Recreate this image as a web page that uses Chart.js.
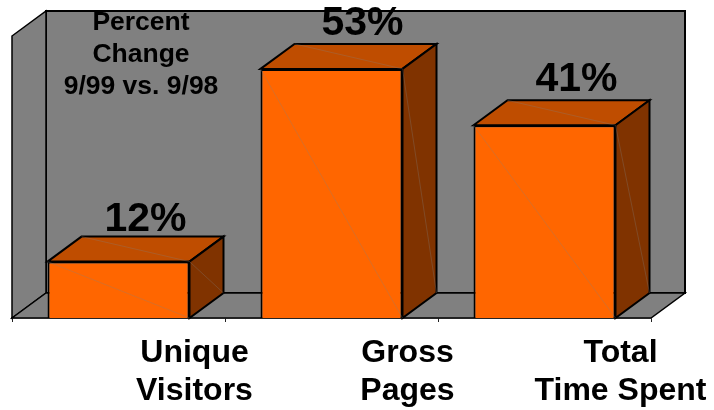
<!DOCTYPE html>
<html>
<head>
<meta charset="utf-8">
<style>
    html, body { margin: 0; padding: 0; background: #fff; }
    canvas { display: block; }
</style>
<script src="https://cdn.jsdelivr.net/npm/chart.js@4/dist/chart.umd.js"></script>
</head>
<body>
<canvas id="chart-bars" width="714" height="410"></canvas>
<script>
const categories = [['Unique', 'Visitors'], ['Gross', 'Pages'], ['Total', 'Time Spent']]
const percentChange = [12, 53, 41]
const noteLines = ['Percent', 'Change', '9/99 vs. 9/98']

const FONT = '"Liberation Sans", Arial, sans-serif'
const DEPTH_X = 34
const DEPTH_Y = 25
/* value labels sit off center in the original, nudge per bar */
const labelNudgeX = [27, 31, 32]
const labelNudgeY = [6, 9, 9]

function poly(ctx, points, fill, stroke, width) {
    ctx.beginPath()
    points.forEach((p, i) => i === 0 ? ctx.moveTo(p[0], p[1]) : ctx.lineTo(p[0], p[1]))
    ctx.closePath()
    ctx.fillStyle = fill
    ctx.fill()
    if (stroke) {
        ctx.strokeStyle = stroke
        ctx.lineWidth = width
        ctx.lineJoin = 'miter'
        ctx.stroke()
    }
}

function faintLine(ctx, x1, y1, x2, y2) {
    ctx.beginPath()
    ctx.moveTo(x1, y1)
    ctx.lineTo(x2, y2)
    ctx.strokeStyle = 'rgba(128,128,128,0.3)'
    ctx.lineWidth = 1
    ctx.stroke()
}

/* walls and floor of the 3d box, bar top and side faces */
const box3d = {
    id: 'box3d',
    beforeDatasetsDraw(chart) {
        const ctx = chart.ctx
        const { left, right, top, bottom } = chart.chartArea
        ctx.save()
        poly(ctx, [[left + DEPTH_X, top - DEPTH_Y], [right + DEPTH_X, top - DEPTH_Y], [right + DEPTH_X, bottom - DEPTH_Y], [left + DEPTH_X, bottom - DEPTH_Y]], '#808080', '#000', 2)
        poly(ctx, [[left, top], [left + DEPTH_X, top - DEPTH_Y], [left + DEPTH_X, bottom - DEPTH_Y], [left, bottom]], '#808080', '#000', 1.5)
        poly(ctx, [[left, bottom], [left + DEPTH_X, bottom - DEPTH_Y], [right + DEPTH_X, bottom - DEPTH_Y], [right, bottom]], '#808080', '#000', 1.5)

        chart.getDatasetMeta(0).data.forEach(bar => {
            const x1 = bar.x - bar.width / 2
            const x2 = bar.x + bar.width / 2
            const y = bar.y
            const base = bar.base
            poly(ctx, [[x1, y], [x1 + DEPTH_X, y - DEPTH_Y], [x2 + DEPTH_X, y - DEPTH_Y], [x2, y]], '#BF4D00', '#000', 2)
            poly(ctx, [[x2, y], [x2 + DEPTH_X, y - DEPTH_Y], [x2 + DEPTH_X, base - DEPTH_Y], [x2, base]], '#803300', '#000', 2)
            faintLine(ctx, x1 + DEPTH_X, y - DEPTH_Y, x2, y)
            faintLine(ctx, x2, y, x2 + DEPTH_X, base - DEPTH_Y)
        })
        ctx.restore()
    },
    afterDatasetsDraw(chart) {
        const ctx = chart.ctx
        ctx.save()
        chart.getDatasetMeta(0).data.forEach(bar => {
            faintLine(ctx, bar.x - bar.width / 2, bar.y, bar.x + bar.width / 2, bar.base)
        })

        ctx.fillStyle = '#000'
        ctx.textAlign = 'center'
        ctx.textBaseline = 'alphabetic'
        ctx.font = 'bold 41px ' + FONT
        chart.getDatasetMeta(0).data.forEach((bar, i) => {
            ctx.fillText(percentChange[i] + '%', bar.x + labelNudgeX[i], bar.y - DEPTH_Y - labelNudgeY[i])
        })

        ctx.font = 'bold 26.5px ' + FONT
        noteLines.forEach((line, i) => ctx.fillText(line, 141, 30 + i * 32))
        ctx.restore()
    }
}

new Chart(document.getElementById('chart-bars'), {
    type: 'bar',
    data: {
        labels: categories,
        datasets: [{
            data: percentChange,
            backgroundColor: '#FF6600',
            borderColor: '#000',
            borderWidth: 2,
            barPercentage: 2 / 3,
            categoryPercentage: 1
        }]
    },
    options: {
        responsive: false,
        animation: false,
        layout: { padding: { left: 12, right: 63, top: 36, bottom: 0 } },
        plugins: {
            legend: { display: false },
            title: { display: false },
            tooltip: { enabled: false }
        },
        scales: {
            x: {
                afterFit(scale) { scale.height = 92 },
                border: { color: '#333', width: 1.5 },
                grid: { drawOnChartArea: false, drawTicks: true, tickLength: 4, color: '#222' },
                ticks: {
                    color: '#000',
                    padding: 12,
                    labelOffset: 76,
                    maxRotation: 0,
                    autoSkip: false,
                    font: { family: FONT, size: 32, weight: 'bold', lineHeight: 1.19 }
                }
            },
            y: { display: false, min: 0, max: 60 }
        }
    },
    plugins: [box3d]
})
</script>
</body>
</html>
